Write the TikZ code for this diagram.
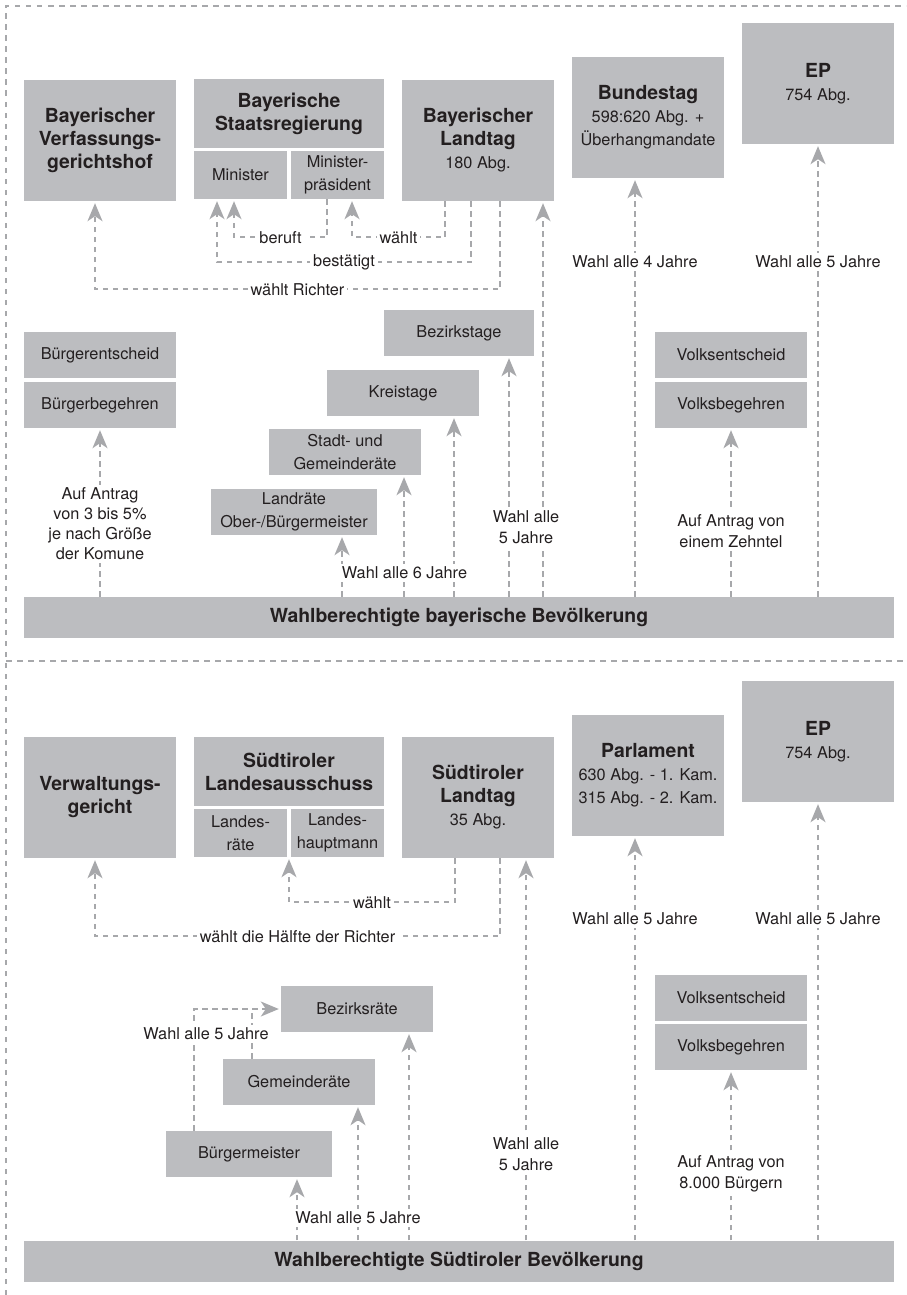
\documentclass[tikz,border=0pt]{standalone}
\usepackage{fontspec}
\setmainfont{TeX Gyre Heros}
\usetikzlibrary{arrows.meta}
\definecolor{boxgray}{RGB}{188,189,192}
\definecolor{linegray}{RGB}{167,168,171}
\definecolor{txtdark}{RGB}{35,31,32}
\newcommand\boxtitle{\fontsize{19.4}{23}\selectfont\bfseries}
\newcommand\boxtext{\fontsize{16.3}{23}\selectfont\mdseries}
\tikzset{
	box/.style={fill=boxgray, text=txtdark, inner sep=0pt, align=center, font=\boxtext},
	bigbox/.style={box, minimum width=152pt, minimum height=121pt},
	headbox/.style={box, minimum width=190pt, minimum height=69pt, font=\boxtitle},
	halfbox/.style={box, minimum width=93pt, minimum height=48pt},
	smallbox/.style={box, minimum width=#1, minimum height=46pt},
	smallbox/.default=152pt,
	popbox/.style={box, minimum width=870pt, minimum height=41pt, font=\boxtitle},
	conn/.style={linegray, line width=1.6pt, dash pattern=on 5.5pt off 4.5pt, -{Stealth[length=18pt,width=15pt,inset=5pt]}, shorten >=2pt},
	rail/.style={conn, -, shorten >=0pt},
	lbl/.style={fill=white, text=txtdark, inner sep=3pt, align=center, font=\fontsize{16.3}{21.5}\selectfont},
	frame/.style={linegray, line width=1.1pt, dash pattern=on 5.5pt off 5.5pt}
}
\begin{document}
\begin{tikzpicture}[x=1pt,y=-1pt]
			\useasboundingbox (0,0) rectangle (906,1295);
			\draw[frame] (6,1295) -- (6,6) -- (906,6) (6,661) -- (906,661);
			\node[bigbox,font=\boxtitle] (vgh) at (100,140.5) {Bayerischer\\Verfassungs-\\gerichtshof};
			\node[headbox] (sreg) at (289,113.5) {Bayerische\\Staatsregierung};
			\node[halfbox] (min) at (240.5,175) {Minister};
			\node[halfbox] (mp) at (337.5,175) {Minister-\\präsident};
			\node[bigbox] (blt) at (478,140.5) {\boxtitle Bayerischer\\\boxtitle Landtag\\180 Abg.};
			\node[bigbox] (bt) at (648,117.5) {\boxtitle Bundestag\\598:620 Abg. +\\Überhangmandate};
			\node[bigbox] (ep) at (818,83.5) {\boxtitle EP\\754 Abg.};
			\node[smallbox] (bent) at (100,355) {Bürgerentscheid};
			\node[smallbox] (bbeg) at (100,405) {Bürgerbegehren};
			\node[smallbox=150pt] (bzt) at (459,333) {Bezirkstage};
			\node[smallbox] (kt) at (403,393) {Kreistage};
			\node[smallbox] (sgr) at (345,452) {Stadt- und\\Gemeinderäte};
			\node[smallbox=166pt] (lr) at (294,512) {Landräte\\Ober-/Bürgermeister};
			\node[smallbox] (vent) at (731,355) {Volksentscheid};
			\node[smallbox] (vbeg) at (731,405) {Volksbegehren};
			\node[popbox] (bpop) at (459,617.5) {Wahlberechtigte bayerische Bevölkerung};
			\draw[conn] ([xshift=22pt]blt.south) -- ++(0,88) -| node[lbl,pos=.25]{wählt Richter} ([xshift=-5pt]vgh.south);
			\draw[conn] ([xshift=-7pt]blt.south) -- ++(0,61) -| node[lbl,pos=.25]{bestätigt} ([xshift=-23.5pt]min.south);
			\draw[conn] ([xshift=-10.5pt]mp.south) -- ++(0,38) -| node[lbl,pos=.25]{beruft} ([xshift=-6.5pt]min.south);
			\draw[conn] ([xshift=-33pt]blt.south) -- ++(0,36) -| node[lbl,pos=.25]{wählt} ([xshift=14.5pt]mp.south);
			\foreach \n/\dx in {blt/65,bt/-13,ep/0,bbeg/0,vbeg/0,lr/48,sgr/59,kt/51,bzt/50}
				\draw[conn] ([xshift=\dx pt]\n.south |- bpop.north) -- ([xshift=\dx pt]\n.south);
			\node[lbl] (wbt) at (635,262) {Wahl alle 4 Jahre};
			\node[lbl] (wep) at (818,262) {Wahl alle 5 Jahre};
			\node[lbl,font=\fontsize{16.3}{20}\selectfont] (abb) at (100,524) {Auf Antrag\\von 3 bis 5\%\\je nach Größe\\der Komune};
			\node[lbl] (wkom) at (404.5,573) {Wahl alle 6 Jahre};
			\node[lbl] (wbez) at (526,527) {Wahl alle\\5 Jahre};
			\node[lbl] (avb) at (731,531) {Auf Antrag von\\einem Zehntel};
			\node[bigbox,font=\boxtitle] (vwg) at (100,797.5) {Verwaltungs-\\gericht};
			\node[headbox] (lass) at (289,771.5) {Südtiroler\\Landesausschuss};
			\node[halfbox] (lrt) at (240.5,833) {Landes-\\räte};
			\node[halfbox] (lhm) at (337.5,833) {Landes-\\hauptmann};
			\node[bigbox] (slt) at (478,797.5) {\boxtitle Südtiroler\\\boxtitle Landtag\\35 Abg.};
			\node[bigbox] (parl) at (648,775.5) {\boxtitle Parlament\\630 Abg. - 1. Kam.\\315 Abg. - 2. Kam.};
			\node[bigbox] (ep2) at (818,741.5) {\boxtitle EP\\754 Abg.};
			\node[smallbox] (bzr) at (357,1009) {Bezirksräte};
			\node[smallbox] (gr) at (299,1082) {Gemeinderäte};
			\node[smallbox=166pt] (bm) at (249,1154) {Bürgermeister};
			\node[smallbox] (vent2) at (731,998) {Volksentscheid};
			\node[smallbox] (vbeg2) at (731,1047) {Volksbegehren};
			\node[popbox] (spop) at (459,1261) {Wahlberechtigte Südtiroler Bevölkerung};
			\draw[conn] ([xshift=22pt]slt.south) -- ++(0,78) -| node[lbl,pos=.25]{wählt die Hälfte der Richter} ([xshift=-5pt]vwg.south);
			\draw[conn] ([xshift=-23pt]slt.south) -- ++(0,44) -| node[lbl,pos=.25]{wählt} (lass.south |- lrt.south);
			\draw[conn] ([xshift=-55pt]bm.north) |- (bzr.west);
			\draw[rail] ([xshift=-47pt]gr.north) -- ([xshift=-47pt]gr.north |- bzr.west);
			\foreach \n/\dx in {slt/48,parl/-13,ep2/0,vbeg2/0,bm/48,gr/59,bzr/52}
				\draw[conn] ([xshift=\dx pt]\n.south |- spop.north) -- ([xshift=\dx pt]\n.south);
			\node[lbl] (wparl) at (635,919) {Wahl alle 5 Jahre};
			\node[lbl] (wep2) at (818,919) {Wahl alle 5 Jahre};
			\node[lbl] (wbzr) at (206,1034) {Wahl alle 5 Jahre};
			\node[lbl] (wgem) at (358,1218) {Wahl alle 5 Jahre};
			\node[lbl] (wslt) at (526,1154) {Wahl alle\\5 Jahre};
			\node[lbl] (avb2) at (731,1174) {Auf Antrag von\\8.000 Bürgern};
\end{tikzpicture}
\end{document}
